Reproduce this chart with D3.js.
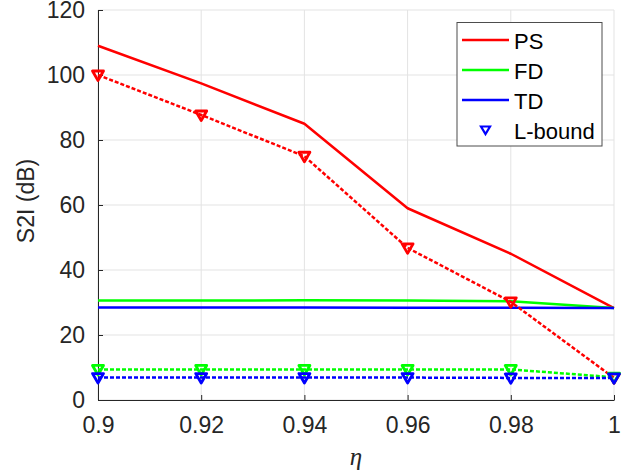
<!DOCTYPE html>
<html>
<head>
<meta charset="utf-8">
<script src="https://cdn.jsdelivr.net/npm/d3@7"></script>
<style>
  html, body { margin: 0; padding: 0; background: #fff; }
  svg { display: block; }
</style>
</head>
<body>
<svg id="chart" width="632" height="476"></svg>
<script>
// eta values along the x axis
const eta = [0.9, 0.92, 0.94, 0.96, 0.98, 1];
// S2I (dB) of each scheme
const ps = [109, 97.4, 85, 59, 45, 28.3];
const fd = [30.6, 30.6, 30.7, 30.6, 30.4, 28.3];
const td = [28.5, 28.5, 28.5, 28.4, 28.4, 28.3];
// lower bounds of each scheme
const psBound = [100, 87.7, 75, 46.8, 30.2, 6.8];
const fdBound = [9.4, 9.4, 9.4, 9.4, 9.4, 7.0];
const tdBound = [6.9, 6.9, 6.9, 6.9, 6.8, 6.8];
// tick labels
const xTicks = [0.9, 0.92, 0.94, 0.96, 0.98, 1];
const xTickLabels = ["0.9", "0.92", "0.94", "0.96", "0.98", "1"];
const yTicks = [0, 20, 40, 60, 80, 100, 120];
const legendLabels = ["PS", "FD", "TD", "L-bound"];

const svg = d3.select("#chart");
const margin = { left: 98, right: 18, top: 10, bottom: 76 };
const W = 632, H = 476;
const x = d3.scaleLinear().domain([0.9, 1]).range([margin.left, W - margin.right]);
const y = d3.scaleLinear().domain([0, 120]).range([H - margin.bottom, margin.top]);

const axisColor = "#262626";
const gridColor = "#e3e3e3";
const font = "Arial, 'Liberation Sans', Helvetica, sans-serif";

// grid
const grid = svg.append("g");
grid.selectAll("line.gx").data(xTicks).join("line")
  .attr("x1", d => x(d)).attr("x2", d => x(d))
  .attr("y1", y(0)).attr("y2", y(120))
  .attr("stroke", gridColor).attr("stroke-width", 1);
grid.selectAll("line.gy").data(yTicks).join("line")
  .attr("x1", x(0.9)).attr("x2", x(1))
  .attr("y1", d => y(d)).attr("y2", d => y(d))
  .attr("stroke", gridColor).attr("stroke-width", 1);

// axes
const xAxis = d3.axisBottom(x).tickValues(xTicks)
  .tickFormat((d, i) => xTickLabels[i]).tickSizeInner(-5).tickSizeOuter(0).tickPadding(17);
const yAxis = d3.axisLeft(y).tickValues(yTicks)
  .tickSizeInner(-5).tickSizeOuter(0).tickPadding(13);

const gx = svg.append("g").attr("transform", `translate(0,${y(0)})`).call(xAxis);
const gy = svg.append("g").attr("transform", `translate(${x(0.9)},0)`).call(yAxis);
[gx, gy].forEach(g => {
  g.attr("font-size", 23).attr("font-family", font);
  g.select(".domain").attr("stroke", axisColor).attr("stroke-width", 1);
  g.selectAll(".tick line").attr("stroke", axisColor);
  g.selectAll(".tick text").attr("fill", axisColor);
});
gx.selectAll(".tick text").attr("dy", "0.71em");

// axis labels
svg.append("text")
  .attr("transform", `translate(34,${(y(0) + y(120)) / 2 - 4}) rotate(-90)`)
  .attr("text-anchor", "middle")
  .attr("fill", axisColor).attr("font-family", font).attr("font-size", 23)
  .text("S2I (dB)");
svg.append("text")
  .attr("x", (x(0.9) + x(1)) / 2).attr("y", 465)
  .attr("text-anchor", "middle")
  .attr("fill", axisColor)
  .attr("font-family", "'Liberation Serif', 'DejaVu Serif', serif")
  .attr("font-style", "italic").attr("font-size", 25)
  .text("η");

const line = d3.line().x((d, i) => x(eta[i])).y(d => y(d));
const tri = "M-5.5,-4L5.5,-4L0,5.5Z";

// solid scheme curves
const solid = [
  { v: ps, c: "#ff0000" },
  { v: fd, c: "#00ff00" },
  { v: td, c: "#0000ff" }
];
solid.forEach(s => {
  svg.append("path").datum(s.v).attr("d", line)
    .attr("fill", "none").attr("stroke", s.c).attr("stroke-width", 2.5)
    .attr("stroke-linejoin", "round");
});

// dashed bounds with triangle markers
const bounds = [
  { v: psBound, c: "#ff0000" },
  { v: fdBound, c: "#00ff00" },
  { v: tdBound, c: "#0000ff" }
];
bounds.forEach(s => {
  svg.append("path").datum(s.v).attr("d", line)
    .attr("fill", "none").attr("stroke", s.c).attr("stroke-width", 2.5)
    .attr("stroke-dasharray", "4,2");
  svg.append("g").selectAll("path").data(s.v).join("path")
    .attr("transform", (d, i) => `translate(${x(eta[i])},${y(d)})`)
    .attr("d", tri)
    .attr("fill", "none").attr("stroke", s.c).attr("stroke-width", 2.8)
    .attr("stroke-linejoin", "round");
});

// legend
const lg = svg.append("g");
lg.append("rect")
  .attr("x", 457).attr("y", 22.5).attr("width", 145).attr("height", 123.5)
  .attr("fill", "#fff").attr("stroke", "#4d4d4d").attr("stroke-width", 1);
const legendColors = ["#ff0000", "#00ff00", "#0000ff", "#0000ff"];
legendLabels.forEach((lab, i) => {
  const cy = 40 + i * 30;
  if (i < 3) {
    lg.append("line").attr("x1", 462).attr("x2", 509)
      .attr("y1", cy).attr("y2", cy)
      .attr("stroke", legendColors[i]).attr("stroke-width", 2.5);
  } else {
    lg.append("path").attr("transform", `translate(485.5,${cy})`)
      .attr("d", "M-4.5,-3.5L4.5,-3.5L0,4Z")
      .attr("fill", "none").attr("stroke", legendColors[i]).attr("stroke-width", 2.2);
  }
  lg.append("text").attr("x", 514).attr("y", cy + 9)
    .attr("fill", "#000").attr("font-family", font).attr("font-size", 22)
    .text(lab);
});
</script>
</body>
</html>
